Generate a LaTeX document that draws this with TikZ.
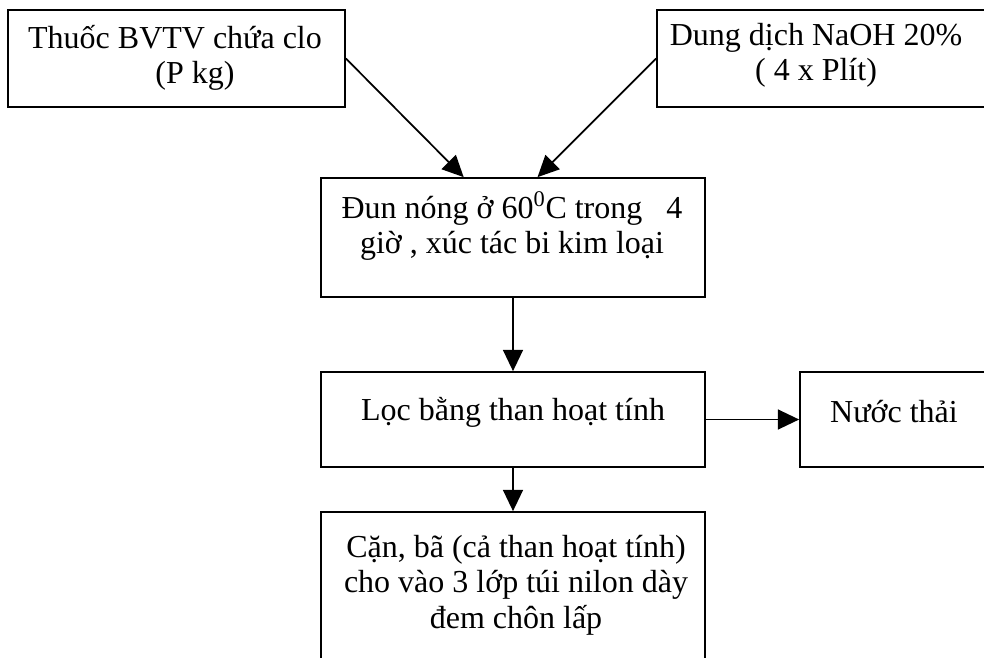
\documentclass[tikz,border=0pt]{standalone}
\usepackage{fontspec}
\setmainfont{Liberation Serif}
\usetikzlibrary{arrows.meta,fit}

\tikzset{every picture/.style={line width=1.3pt}}
\tikzset{
	flowbox/.style={draw, inner sep=0pt},
	txt/.style={align=center, inner sep=0pt, font=\fontsize{24}{26.5}\selectfont},
	arr/.style={-{Triangle[length=16pt,width=15pt]}}
}

\begin{document}
\begin{tikzpicture}[x=0.75pt,y=0.75pt,yscale=-1,xscale=1]
	\useasboundingbox (0,0) rectangle (984,657);
	\clip (0,0) rectangle (984,657);

	%Shape: Rectangle
	\node[flowbox, fit={(8,10) (345,107)}] (thuoc) {};
	%Shape: Rectangle
	\node[flowbox, fit={(657,10) (995,107)}] (naoh) {};
	%Shape: Rectangle
	\node[flowbox, fit={(321,178) (705,297)}] (dun) {};
	%Shape: Rectangle
	\node[flowbox, fit={(321,372) (705,467)}] (loc) {};
	%Shape: Rectangle
	\node[flowbox, fit={(800,372) (995,467)}] (nuoc) {};
	%Shape: Rectangle
	\node[flowbox, fit={(321,512) (705,700)}] (can) {};

	%Straight Lines
	\draw[arr] (thuoc.east) -- ([xshift=-37pt]dun.north);
	%Straight Lines
	\draw[arr] (naoh.west) -- ([xshift=18.4pt]dun.north);
	%Straight Lines
	\draw[arr] (dun.south) -- (loc.north);
	%Straight Lines
	\draw[arr] (loc.east) -- (nuoc.west);
	%Straight Lines
	\draw[arr] (loc.south) -- (can.north);

	% Text Node
	\node[txt] (thuoc-t) at (175,58) {Thuốc BVTV chứa clo\\\hspace*{30pt}(P kg)};
	% Text Node
	\node[txt] (naoh-t) at (816,55) {Dung dịch NaOH 20\%\\( 4 x Plít)};
	% Text Node
	\node[txt] (dun-t) at (512,226) {Đun nóng ở 60\textsuperscript{0}C trong\ \ \ 4\\giờ , xúc tác bi kim loại};
	% Text Node
	\node[txt] (loc-t) at (513,412) {Lọc bằng than hoạt tính};
	% Text Node
	\node[txt] (nuoc-t) at (894,412) {Nước thải};
	% Text Node
	\node[txt] (can-t) at (516,585) {Cặn, bã (cả than hoạt tính)\\cho vào 3 lớp túi nilon dày\\đem chôn lấp};

\end{tikzpicture}
\end{document}
